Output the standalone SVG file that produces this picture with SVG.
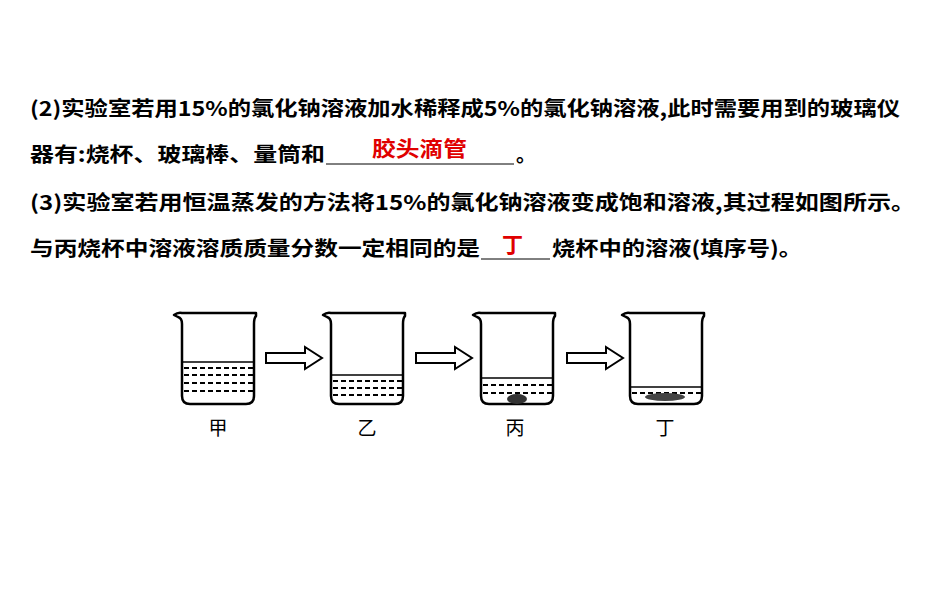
<svg xmlns="http://www.w3.org/2000/svg" width="950" height="594" viewBox="0 0 950 594">
<style>
.t{font-family:"Noto Sans CJK SC",sans-serif;font-size:20px;font-weight:bold;fill:#000}
.r{font-family:"Noto Sans CJK SC",sans-serif;font-size:21px;font-weight:bold;fill:#e00000}
.l{font-family:"Noto Sans CJK SC",sans-serif;font-size:19px;fill:#000}
.b{fill:none;stroke:#000;stroke-width:2.5;stroke-linejoin:round}
.d{stroke:#000;stroke-width:2;stroke-dasharray:5 3}
.a{fill:#fff;stroke:#000;stroke-width:2}
</style>
<rect width="950" height="594" fill="#fff"/>
<text class="t" x="30" y="116" textLength="870" lengthAdjust="spacingAndGlyphs">(2)实验室若用15%的氯化钠溶液加水稀释成5%的氯化钠溶液,此时需要用到的玻璃仪</text>
<text class="t" x="30" y="162" textLength="295" lengthAdjust="spacingAndGlyphs">器有:烧杯、玻璃棒、量筒和</text>
<line x1="326" y1="164" x2="514" y2="164" stroke="#000" stroke-width="1"/>
<text class="r" x="372" y="156" textLength="95" lengthAdjust="spacingAndGlyphs">胶头滴管</text>
<text class="t" x="516" y="162">。</text>
<text class="t" x="30" y="210" textLength="885" lengthAdjust="spacingAndGlyphs">(3)实验室若用恒温蒸发的方法将15%的氯化钠溶液变成饱和溶液,其过程如图所示。</text>
<text class="t" x="30" y="256" textLength="450" lengthAdjust="spacingAndGlyphs">与丙烧杯中溶液溶质质量分数一定相同的是</text>
<line x1="481" y1="259" x2="550" y2="259" stroke="#000" stroke-width="1"/>
<text class="r" x="502" y="252">丁</text>
<text class="t" x="552" y="256" textLength="250" lengthAdjust="spacingAndGlyphs">烧杯中的溶液(填序号)。</text>

<defs>
<path id="bk" class="b" d="M-4,3 Q0,0 4,1 L78,1 L78,4 Q76,6 76,12 L76,84 Q76,92 68,92 L12,92 Q4,92 4,84 L4,12 Q4,6 0,5 Z"/>
</defs>
<g id="jia">
<use href="#bk" x="178" y="312"/>
<line x1="182" y1="362" x2="254" y2="362" stroke="#000" stroke-width="1.5"/>
<line class="d" x1="184" y1="368" x2="254" y2="368"/>
<line class="d" x1="184" y1="375" x2="254" y2="375"/>
<line class="d" x1="184" y1="383" x2="254" y2="383"/>
<line class="d" x1="184" y1="391" x2="254" y2="391"/>
<text class="l" x="218" y="435" text-anchor="middle">甲</text>
</g>
<g id="yi">
<use href="#bk" x="327" y="312"/>
<line x1="331" y1="375" x2="403" y2="375" stroke="#000" stroke-width="1.5"/>
<line class="d" x1="333" y1="381" x2="403" y2="381"/>
<line class="d" x1="333" y1="388" x2="403" y2="388"/>
<line class="d" x1="333" y1="395" x2="403" y2="395"/>
<text class="l" x="367" y="435" text-anchor="middle">乙</text>
</g>
<g id="bing">
<use href="#bk" x="477" y="312"/>
<line x1="481" y1="378" x2="553" y2="378" stroke="#000" stroke-width="1.5"/>
<line class="d" x1="483" y1="385" x2="553" y2="385"/>
<line class="d" x1="483" y1="393" x2="553" y2="393"/>
<ellipse cx="517" cy="399" rx="10" ry="5" fill="#333"/>
<text class="l" x="515" y="435" text-anchor="middle">丙</text>
</g>
<g id="ding">
<use href="#bk" x="626" y="312"/>
<line x1="630" y1="387" x2="702" y2="387" stroke="#000" stroke-width="1.5"/>
<line class="d" x1="632" y1="393" x2="702" y2="393"/>
<ellipse cx="665" cy="397" rx="20" ry="4" fill="#444"/>
<text class="l" x="665" y="435" text-anchor="middle">丁</text>
</g>
<g id="connectors">
<path class="a" d="M266,353 L305,353 L305,347 L322,358 L305,369 L305,363 L266,363 Z"/>
<path class="a" d="M416,353 L455,353 L455,347 L472,358 L455,369 L455,363 L416,363 Z"/>
<path class="a" d="M567,353 L606,353 L606,347 L623,358 L606,369 L606,363 L567,363 Z"/>
</g>
</svg>
